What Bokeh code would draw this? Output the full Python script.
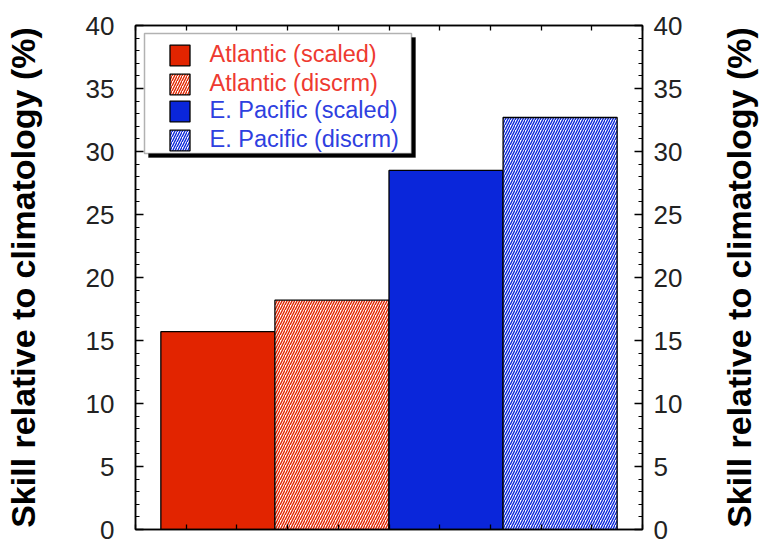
import math
from bokeh.plotting import figure
from bokeh.layouts import row
from bokeh.models import (Range1d, LinearAxis, FixedTicker, SingleIntervalTicker,
                          Legend, LegendItem, BoxAnnotation, Label)
from bokeh.embed import file_html
from bokeh.resources import INLINE

# ---- data ----
series_labels = ["Atlantic (scaled)", "Atlantic (discrm)", "E. Pacific (scaled)", "E. Pacific (discrm)"]
skill_pct = [15.7, 18.2, 28.5, 32.7]
axis_title = "Skill relative to climatology (%)"

# ---- styles ----
RED = "#E22400"
BLUE = "#0A26DA"
RED_TXT = "#EE3A30"
BLUE_TXT = "#2E40E0"
FONT = "Liberation Sans"

W, H = 720, 543
SIDE_W = 42
B_LEFT, B_RIGHT, B_TOP, B_BOTTOM = 134, 78, 25, 14
FRAME_W = W - B_LEFT - B_RIGHT
FRAME_H = H - B_TOP - B_BOTTOM

bar_start = 0.5
bar_w = 2.25
xs = [bar_start + bar_w * (i + 0.5) for i in range(len(skill_pct))]

p = figure(width=W, height=H, x_range=Range1d(0, 10), y_range=Range1d(0, 40),
           output_backend="svg", toolbar_location=None,
           x_axis_location=None, y_axis_location=None,
           min_border_left=B_LEFT, min_border_right=B_RIGHT,
           min_border_top=B_TOP, min_border_bottom=B_BOTTOM,
           background_fill_color="white", border_fill_color="white")
p.grid.visible = False
p.outline_line_color = "black"
p.outline_line_width = 1.5

styles = [
    dict(fill_color=RED),
    dict(fill_color="white", hatch_pattern="/", hatch_color=RED, hatch_scale=5, hatch_weight=1.4),
    dict(fill_color=BLUE),
    dict(fill_color="white", hatch_pattern="/", hatch_color=BLUE, hatch_scale=5, hatch_weight=1.4),
]
renderers = []
for i in range(len(skill_pct)):
    r = p.vbar(x=[xs[i]], top=[skill_pct[i]], bottom=0, width=bar_w,
               line_color="black", line_width=1.3, **styles[i])
    renderers.append(r)

# ---- axes ----
def yaxis(side):
    ax = LinearAxis(ticker=SingleIntervalTicker(interval=5, num_minor_ticks=5),
                    axis_label=axis_title if side == "left" else None)
    ax.axis_line_width = 1.5
    ax.major_tick_in = 8
    ax.major_tick_out = 0
    ax.minor_tick_in = 4
    ax.minor_tick_out = 0
    ax.major_tick_line_width = 1.3
    ax.minor_tick_line_width = 1.2
    ax.major_label_text_font = FONT
    ax.major_label_text_font_size = "26px"
    ax.major_label_text_color = "#222222"
    ax.axis_label_text_font = FONT
    ax.axis_label_text_font_style = "bold"
    ax.axis_label_text_font_size = "34px"
    ax.axis_label_text_color = "black"
    if side == "left":
        ax.major_label_standoff = 21
        ax.axis_label_standoff = 41
    else:
        ax.major_label_standoff = 11
    p.add_layout(ax, side)

def xaxis(side):
    ticks = list(range(0, 11))
    ax = LinearAxis(ticker=FixedTicker(ticks=ticks, minor_ticks=[]))
    ax.axis_line_width = 1.5
    ax.major_tick_in = 5
    ax.major_tick_out = 0
    ax.major_tick_line_width = 1.3
    ax.minor_tick_line_color = None
    ax.major_label_overrides = {t: "" for t in ticks}
    ax.major_label_text_font_size = "0px"
    ax.major_label_standoff = 0
    p.add_layout(ax, side)

yaxis("left")
yaxis("right")
xaxis("above")
xaxis("below")

# ---- legend box with drop shadow (screen units, relative to frame) ----
def sbox(l, r, t, b, **kw):
    return BoxAnnotation(left=l, right=r, top=t, bottom=b,
                         left_units="screen", right_units="screen",
                         top_units="screen", bottom_units="screen", editable=False, **kw)

p.add_layout(sbox(13, 280, FRAME_H - 12, FRAME_H - 132,
                  fill_color="black", fill_alpha=1, line_color="black", line_width=1))
p.add_layout(sbox(9, 276, FRAME_H - 8, FRAME_H - 128,
                  fill_color="white", fill_alpha=1, line_color="black", line_width=1.5))

def make_legend(idx, color, loc):
    lg = Legend(items=[LegendItem(label=series_labels[i], renderers=[renderers[i]]) for i in idx],
                location=loc, padding=0, margin=0, spacing=2,
                glyph_width=25, glyph_height=26, label_height=26, label_standoff=18,
                border_line_color=None, background_fill_alpha=0,
                label_text_font=FONT, label_text_font_size="23.5px", label_text_color=color)
    p.add_layout(lg)

make_legend([0, 1], RED_TXT, (31.5, FRAME_H - 72))
make_legend([2, 3], BLUE_TXT, (31.5, FRAME_H - 128))

# ---- right-hand title (reads bottom to top like the left one) ----
p2 = figure(width=SIDE_W, height=H, x_range=Range1d(0, 1), y_range=Range1d(0, 1),
            output_backend="svg", toolbar_location=None,
            x_axis_location=None, y_axis_location=None, min_border=0,
            background_fill_color="white", border_fill_color="white")
p2.grid.visible = False
p2.outline_line_color = None
p2.add_layout(Label(x=0.45, y=0.5, text=axis_title, angle=math.pi / 2,
                    text_align="center", text_baseline="middle",
                    text_font=FONT, text_font_style="bold", text_font_size="34px", text_color="black"))

layout = row(p, p2, spacing=0)
open("out.html", "w").write(file_html(layout, INLINE))
